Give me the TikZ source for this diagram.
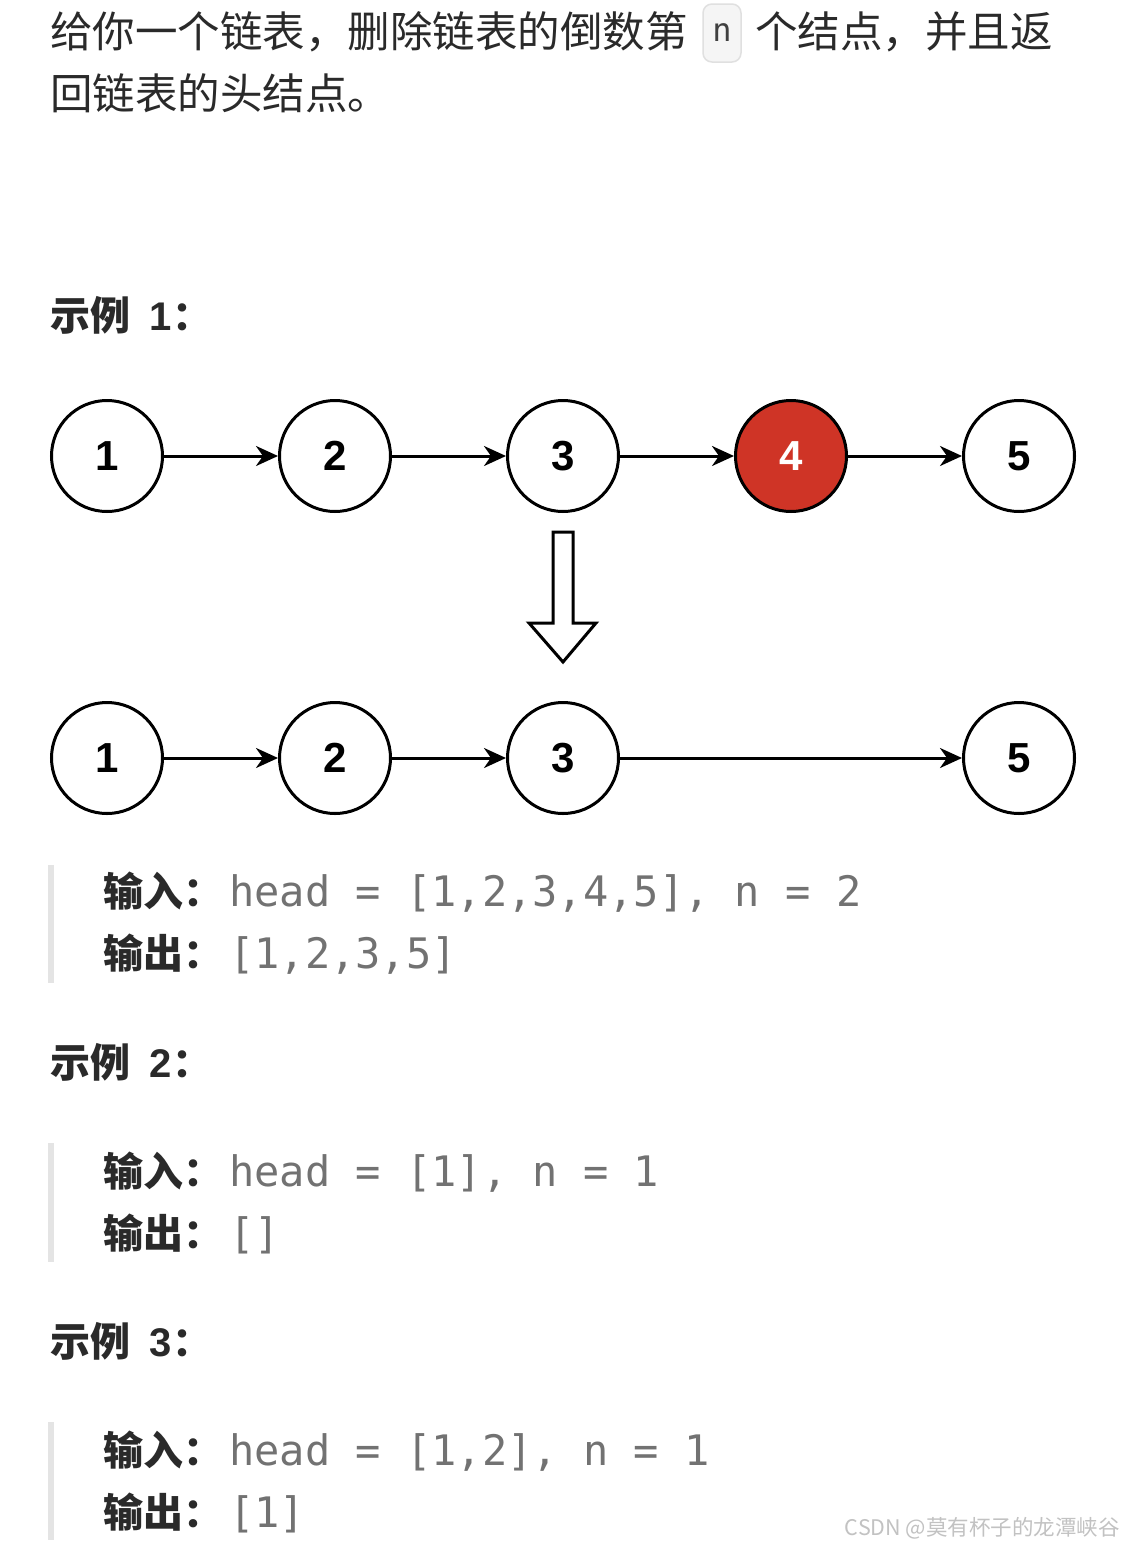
\documentclass[tikz,border=0pt]{standalone}
\usepackage{fontspec}
\setmainfont{Liberation Sans}
\newfontfamily\cjk{Noto Sans CJK SC}
\newfontfamily\digitfont{Liberation Sans}
\newfontfamily\monofont{DejaVu Sans Mono}
\usetikzlibrary{arrows.meta}
\definecolor{txt}{HTML}{2A2A2A}
\definecolor{nodered}{HTML}{CF3426}
\definecolor{codegrey}{HTML}{727272}
\definecolor{barfill}{HTML}{E4E4E4}
\definecolor{wmark}{HTML}{C2C2C2}
\newcommand{\headnum}[1]{示例\hspace{19pt}{\digitfont\bfseries #1}\hspace{1pt}：}
\tikzset{
  lnode/.style={circle, draw=black, line width=3pt, minimum size=111pt, inner sep=0pt, fill=white,
    font=\digitfont\bfseries\fontsize{42}{42}\selectfont},
  rednode/.style={lnode, fill=nodered, text=white},
  link/.style={line width=3pt, -{Stealth[length=22pt,width=20pt,inset=7pt]}},
  plain/.style={anchor=base west, inner sep=0pt, text=txt},
  titlefont/.style={font=\cjk\fontsize{42.5}{50}\selectfont},
  headfont/.style={font=\cjk\bfseries\fontsize{40}{48}\selectfont},
  codefont/.style={font=\monofont\fontsize{42}{50}\selectfont, text=codegrey},
  quotebar/.style={fill=barfill, draw=none}
}
\begin{document}
\begin{tikzpicture}[x=1pt,y=-1pt]
\fill[white] (0,0) rectangle (1125,1548);
\useasboundingbox (0,0) rectangle (1125,1548);

% title
\node[plain, titlefont] (t1) at (50,47) {给你一个链表，删除链表的倒数第};
\node[draw=black!12, fill=black!4, line width=1.5pt, rounded corners=9pt, minimum width=38pt,
      minimum height=58pt, inner sep=0pt, font=\monofont\fontsize{32}{32}\selectfont, text=black!75]
      (ncode) at (722,33) {n};
\node[plain, titlefont] (t2) at (755,47) {个结点，并且返};
\node[plain, titlefont] (t3) at (50,109) {回链表的头结点。};

% example 1 heading
\node[plain, headfont] (h1) at (50,330) {\headnum{1}};

% first list
\node[lnode] (a1) at (107,456) {1};
\node[lnode] (a2) at (335,456) {2};
\node[lnode] (a3) at (563,456) {3};
\node[rednode] (a4) at (791,456) {4};
\node[lnode] (a5) at (1019,456) {5};
\draw[link] (a1) -- (a2);
\draw[link] (a2) -- (a3);
\draw[link] (a3) -- (a4);
\draw[link] (a4) -- (a5);

% hollow arrow
\draw[line width=3pt, line join=miter, fill=white]
  (553,532) -- (573,532) -- (573,623) -- (596,623) -- (563,662) -- (529,623) -- (553,623) -- cycle;

% second list
\node[lnode] (b1) at (107,758) {1};
\node[lnode] (b2) at (335,758) {2};
\node[lnode] (b3) at (563,758) {3};
\node[lnode] (b5) at (1019,758) {5};
\draw[link] (b1) -- (b2);
\draw[link] (b2) -- (b3);
\draw[link] (b3) -- (b5);

% example 1 block
\fill[quotebar] (48,865) rectangle (54,983);
\node[plain, headfont] (i1) at (103,906) {输入：};
\node[plain, codefont] (c1) at (229,906) {head = [1,2,3,4,5], n = 2};
\node[plain, headfont] (o1) at (103,968) {输出：};
\node[plain, codefont] (d1) at (229,968) {[1,2,3,5]};

% example 2
\node[plain, headfont] (h2) at (50,1077) {\headnum{2}};
\fill[quotebar] (48,1143) rectangle (54,1262);
\node[plain, headfont] (i2) at (103,1186) {输入：};
\node[plain, codefont] (c2) at (229,1186) {head = [1], n = 1};
\node[plain, headfont] (o2) at (103,1248) {输出：};
\node[plain, codefont] (d2) at (229,1248) {[]};

% example 3
\node[plain, headfont] (h3) at (50,1356) {\headnum{3}};
\fill[quotebar] (48,1422) rectangle (54,1540);
\node[plain, headfont] (i3) at (103,1465) {输入：};
\node[plain, codefont] (c3) at (229,1465) {head = [1,2], n = 1};
\node[plain, headfont] (o3) at (103,1527) {输出：};
\node[plain, codefont] (d3) at (229,1527) {[1]};

% watermark
\node[anchor=east, inner sep=0pt, font=\cjk\fontsize{21.5}{26}\selectfont, text=wmark] (wm) at (1120,1528) {CSDN @莫有杯子的龙潭峡谷};
\end{tikzpicture}
\end{document}
